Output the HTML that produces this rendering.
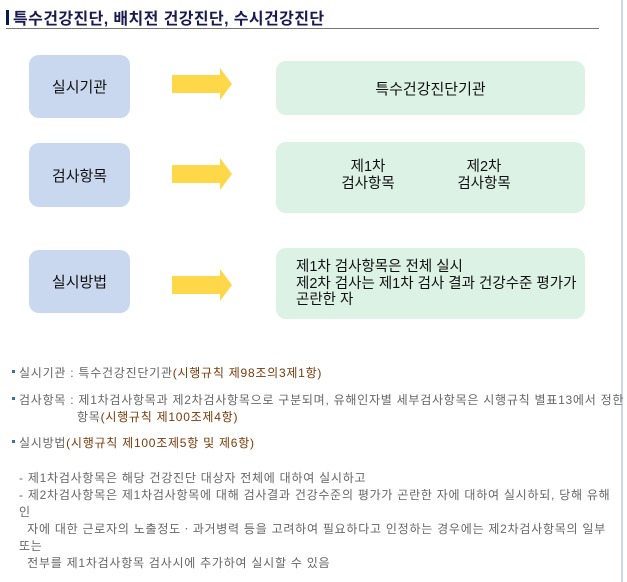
<!DOCTYPE html>
<html><head><meta charset="utf-8"><style>
body{margin:0;width:627px;height:582px;background:#fff;position:relative;overflow:hidden;font-family:"Liberation Sans","Noto Sans CJK KR",sans-serif}
.a{position:absolute;white-space:nowrap}
.lb{position:absolute;left:29px;width:101px;background:#c9d8ef;border-radius:10px;display:flex;align-items:center;justify-content:center;font-size:15px;color:#111}
.rb{position:absolute;left:276px;width:309px;background:#dcf2e4;border-radius:10px;font-size:14.5px;color:#111}
.ar{position:absolute;left:172px;width:60px;height:32px}
.t{font-size:12px;color:#666;letter-spacing:0.75px}
.r{color:#7a3a0a}
.bl{position:absolute;left:12px;width:3px;height:3px;background:#3a6ea5}
</style></head><body>
<div class="a" style="left:6px;top:10px;width:3px;height:15px;background:#0a1650"></div>
<div class="a" style="left:13px;top:5px;font-size:16px;font-weight:bold;color:#1a1a50;letter-spacing:0.4px">특수건강진단, 배치전 건강진단, 수시건강진단</div>
<div class="a" style="left:6px;top:28px;width:593px;height:1px;background:#777"></div>
<div class="a" style="left:621px;top:0;width:2px;height:582px;background:#cdd8e6"></div>

<div class="lb" style="top:55px;height:63px">실시기관</div>
<div class="lb" style="top:143px;height:64px">검사항목</div>
<div class="lb" style="top:250px;height:63px">실시방법</div>

<svg class="ar" style="top:68px" viewBox="0 0 60 32"><polygon points="0,7 48,7 48,0 60,16 48,32 48,25 0,25" fill="#ffd84a"/></svg>
<svg class="ar" style="top:158px" viewBox="0 0 60 32"><polygon points="0,7 48,7 48,0 60,16 48,32 48,25 0,25" fill="#ffd84a"/></svg>
<svg class="ar" style="top:269px" viewBox="0 0 60 32"><polygon points="0,7 48,7 48,0 60,16 48,32 48,25 0,25" fill="#ffd84a"/></svg>

<div class="rb" style="top:61px;height:54px;display:flex;align-items:center;justify-content:center;font-size:15px">특수건강진단기관</div>
<div class="rb" style="top:142px;height:71px">
 <div class="a" style="left:62px;top:17px;width:60px;text-align:center;line-height:17px">제1차<br>검사항목</div>
 <div class="a" style="left:178px;top:17px;width:60px;text-align:center;line-height:17px">제2차<br>검사항목</div>
</div>
<div class="rb" style="top:248px;height:71px">
 <div class="a" style="left:20px;top:11px;line-height:16.5px">제1차 검사항목은 전체 실시<br>제2차 검사는 제1차 검사 결과 건강수준 평가가<br>곤란한 자</div>
</div>

<div class="bl" style="top:370px"></div>
<div class="a t" style="left:19px;top:364px">실시기관 : 특수건강진단기관<span class="r">(시행규칙 제98조의3제1항)</span></div>
<div class="bl" style="top:397px"></div>
<div class="a t" style="left:19px;top:391px">검사항목 : 제1차검사항목과 제2차검사항목으로 구분되며, 유해인자별 세부검사항목은 시행규칙 별표13에서 정한</div>
<div class="a t" style="left:77px;top:408px">항목<span class="r">(시행규칙 제100조제4항)</span></div>
<div class="bl" style="top:440px"></div>
<div class="a t" style="left:19px;top:434px">실시방법<span class="r">(시행규칙 제100조제5항 및 제6항)</span></div>
<div class="a t" style="left:19px;top:470px;line-height:17px">- 제1차검사항목은 해당 건강진단 대상자 전체에 대하여 실시하고<br>- 제2차검사항목은 제1차검사항목에 대해 검사결과 건강수준의 평가가 곤란한 자에 대하여 실시하되, 당해 유해<br>인<br>&nbsp;&nbsp;자에 대한 근로자의 노출정도ㆍ과거병력 등을 고려하여 필요하다고 인정하는 경우에는 제2차검사항목의 일부<br>또는<br>&nbsp;&nbsp;전부를 제1차검사항목 검사시에 추가하여 실시할 수 있음</div>
</body></html>
